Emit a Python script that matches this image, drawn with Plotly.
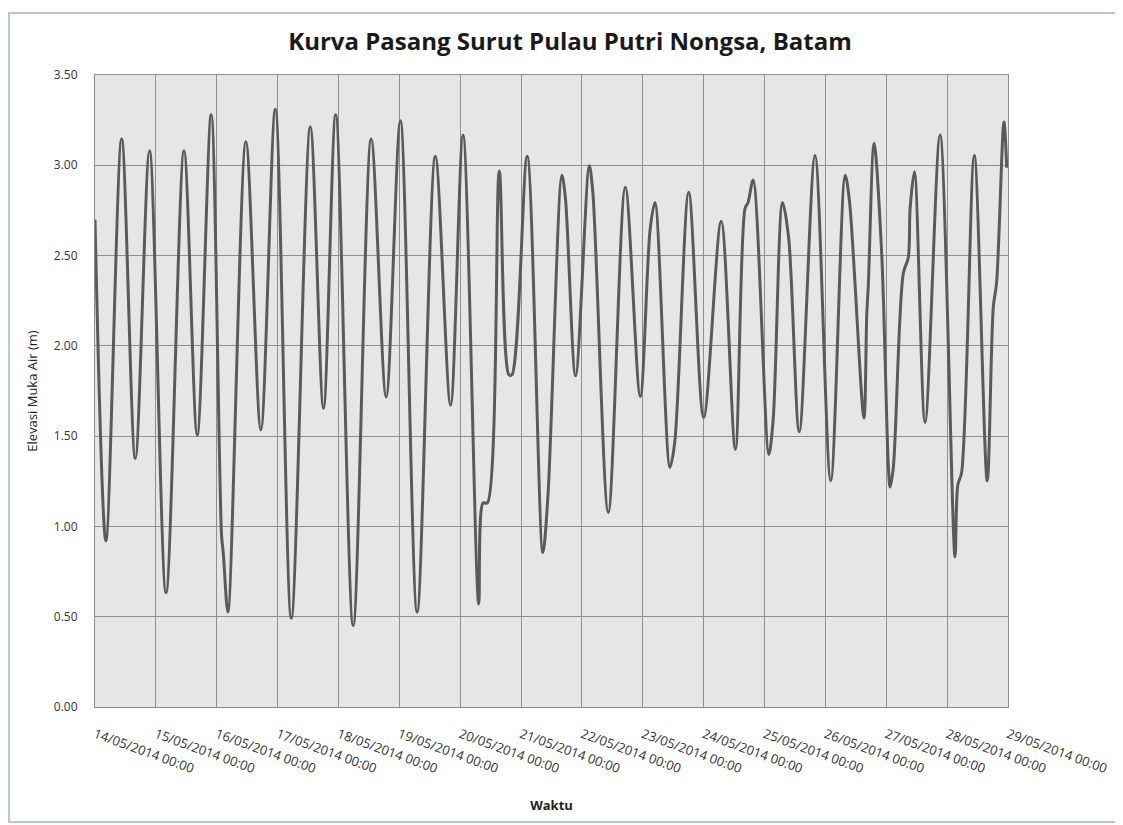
import pandas as pd
import plotly.graph_objects as go

# Hours since 14/05/2014 00:00 and water elevation (m)
hours = [0.0, 4.3, 10.5, 15.9, 21.5, 28.0, 35.1, 40.3, 45.8, 49.9, 50.6, 52.4,
         59.5, 65.4, 71.1, 77.4, 84.9, 90.1, 94.9, 101.8, 108.9, 114.8, 120.4,
         127.0, 134.2, 140.2, 145.1, 151.3, 153.0, 154.7, 159.4, 163.2, 164.4,
         170.4, 176.6, 178.6, 184.1, 185.5, 189.5, 194.9, 196.3, 202.4, 209.1,
         215.0, 218.9, 220.8, 226.7, 228.6, 234.1, 240.0, 246.9, 252.5, 256.3,
         257.5, 259.5, 265.7, 267.4, 271.1, 273.5, 277.7, 283.9, 290.1, 295.8,
         297.5, 303.2, 304.3, 304.9, 307.2, 310.2, 312.8, 313.5, 314.8, 318.7,
         320.7, 321.4, 323.1, 327.3, 333.2, 339.1, 340.2, 341.7, 346.7, 351.8,
         354.2, 355.5, 358.4, 359.5]
elevation = [2.70, 0.92, 3.145, 1.376, 3.08, 0.633, 3.08, 1.506, 3.28, 0.95, 0.85, 0.526,
             3.13, 1.535, 3.31, 0.492, 3.213, 1.653, 3.28, 0.451, 3.145, 1.717, 3.247,
             0.526, 3.05, 1.671, 3.168, 0.571, 1.13, 1.13, 2.968, 1.84, 1.84,
             3.05, 0.855, 1.17, 2.945, 2.816, 1.834, 2.998, 2.85, 1.077, 2.878,
             1.72, 2.646, 2.794, 1.327, 1.467, 2.85, 1.603, 2.69, 1.426, 2.76,
             2.794, 2.918, 1.399, 1.59, 2.794, 2.6, 1.524, 3.054, 1.252, 2.945,
             2.8, 1.6, 2.17, 2.33, 3.122, 2.51, 1.34, 1.218, 1.33, 2.40,
             2.49, 2.76, 2.964, 1.576, 3.168, 0.832, 1.229, 1.297, 3.054, 1.252,
             2.215, 2.35, 3.24, 2.986]

start = pd.Timestamp("2014-05-14 00:00")
end = pd.Timestamp("2014-05-29 00:00")
times = [start + pd.Timedelta(hours=h) for h in hours]
tick_days = pd.date_range(start, end, freq="D")
tick_text = [d.strftime("%d/%m/%Y %H:%M") for d in tick_days]
y_ticks = [0.0, 0.5, 1.0, 1.5, 2.0, 2.5, 3.0, 3.5]

title_text = "Kurva Pasang Surut Pulau Putri Nongsa, Batam"
y_title = "Elevasi Muka Air (m)"
x_title = "Waktu"

OFF = 8  # page body margin
W, H = 1123 - OFF, 825 - OFF
L, T = 95 - OFF, 75 - OFF
R, B = 1123 - 1008, 825 - 707
pw, ph = W - L - R, H - T - B

fig = go.Figure()
fig.add_trace(go.Scatter(
    x=times, y=elevation, mode="lines",
    line=dict(color="#5a5a5a", width=3, shape="spline", smoothing=0.9),
    showlegend=False, hoverinfo="x+y"))

def px_x(p):
    return (p - OFF - L) / pw

def px_y(p):
    return (H - B - (p - OFF)) / ph

# chart-area frame
fig.add_shape(type="rect", xref="paper", yref="paper",
              x0=px_x(9), x1=px_x(1140), y0=px_y(822), y1=px_y(13),
              line=dict(color="#b9caca", width=2), fillcolor="rgba(0,0,0,0)", layer="below")

fig.update_layout(
    width=W, height=H,
    margin=dict(l=L, r=R, t=T, b=B),
    paper_bgcolor="white",
    plot_bgcolor="#e6e6e6",
    title=dict(text="<b>" + title_text + "</b>", xref="container", x=(570 - OFF) / W, xanchor="center",
               yref="container", y=1 - (42 - OFF) / H, yanchor="middle",
               font=dict(family="Open Sans", size=24, color="#1a1a1a")),
    font=dict(family="Open Sans", color="#333333"),
)
fig.update_xaxes(
    range=[start, end], tickvals=tick_days, ticktext=tick_text, tickangle=20,
    tickfont=dict(size=13, color="#333333"),
    showgrid=True, gridcolor="#8f8f8f", gridwidth=1,
    showline=True, linecolor="#8f8f8f", linewidth=1, mirror=True,
    ticks="outside", ticklen=14, tickcolor="rgba(0,0,0,0)",
    title=dict(text="<b>" + x_title + "</b>", font=dict(size=13, color="#222222"), standoff=24),
    zeroline=False,
)
fig.update_yaxes(
    range=[0, 3.5], tickvals=y_ticks, tickformat=".2f",
    tickfont=dict(size=12, color="#333333"),
    showgrid=True, gridcolor="#8f8f8f", gridwidth=1,
    showline=True, linecolor="#8f8f8f", linewidth=1, mirror=True,
    ticks="outside", ticklen=14, tickcolor="rgba(0,0,0,0)",
    title=dict(text=y_title, font=dict(size=13, color="#222222"), standoff=13),
    zeroline=False,
)
fig.write_html("out.html")
